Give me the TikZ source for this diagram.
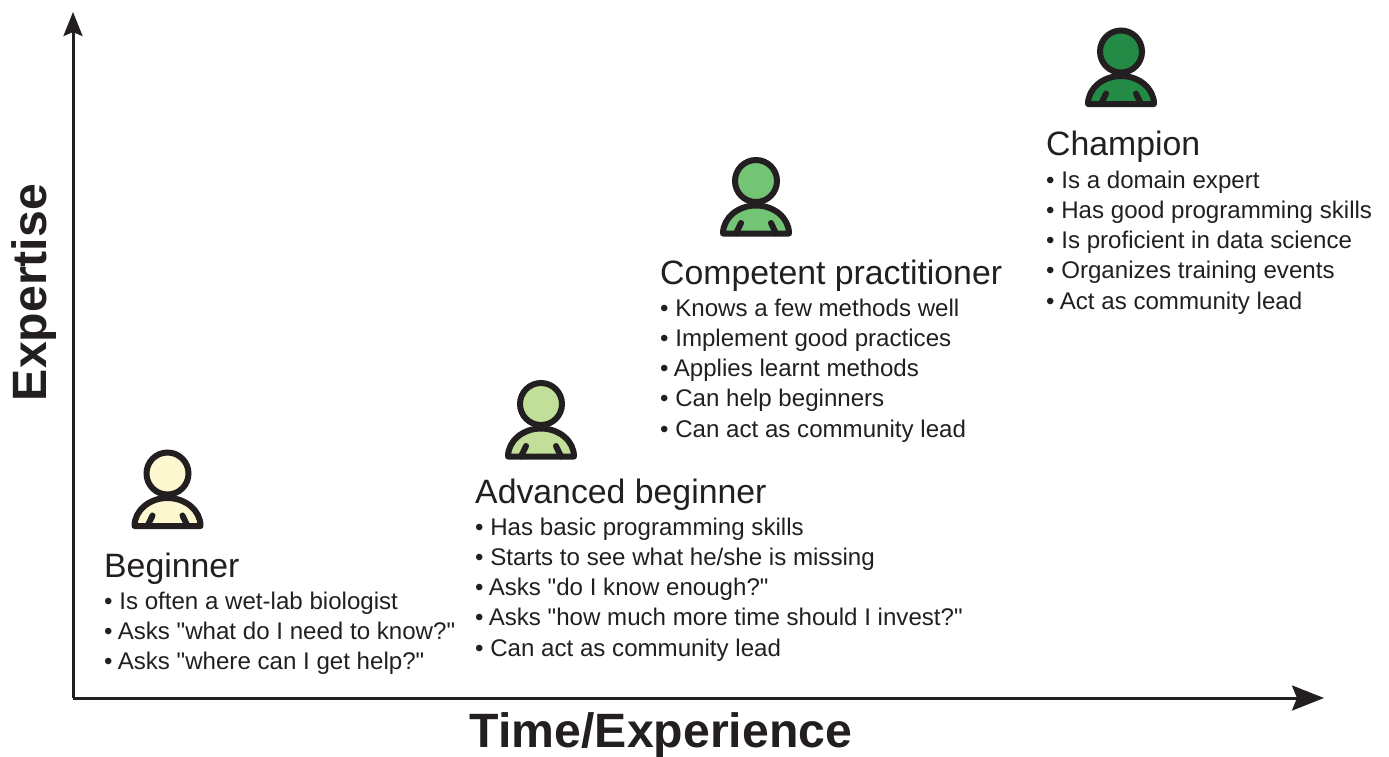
\documentclass[tikz,border=0pt]{standalone}
\usepackage{fontspec}
\setmainfont{Liberation Sans}[Ligatures=TeXOff]
\usetikzlibrary{arrows.meta}
\definecolor{ink}{HTML}{231F20}
\definecolor{lvlA}{HTML}{FDF8CF}
\definecolor{lvlB}{HTML}{C2DF9A}
\definecolor{lvlC}{HTML}{74C476}
\definecolor{lvlD}{HTML}{238B45}
\newcommand{\itm}{\textbullet\ }
\newcommand{\itmA}{\textbullet\ \kern-1.5pt}
\tikzset{
  x=1pt,y=-1pt,
  axisline/.style={draw=ink,line width=3pt},
  titletext/.style={anchor=base west,inner sep=0pt,text=ink,font=\fontsize{33.8}{36}\selectfont},
  listtext/.style={anchor=north west,inner sep=0pt,text=ink,align=left,font=\fontsize{24.1}{30.1}\selectfont},
  axislabel/.style={inner sep=0pt,text=ink,font=\fontsize{48.2}{50}\selectfont\bfseries},
  pics/person/.style={code={
    \draw[draw=ink,line width=6pt,fill=#1,line join=round] (-33,52.5) arc[start angle=180,end angle=360,x radius=33,y radius=28] -- cycle;
    \draw[draw=ink,line width=6pt,fill=#1] (0,0) circle[radius=21];
    \draw[draw=ink,line width=6pt,line cap=round] (-15,42) -- (-20,52.5);
    \draw[draw=ink,line width=6pt,line cap=round] (15,42) -- (20,52.5);
  }}
}
\begin{document}
\begin{tikzpicture}
\useasboundingbox (0,0) rectangle (1389,756);
\coordinate (origin) at (73,698);
\coordinate (xend) at (1324,698);
\coordinate (yend) at (73,12);
\draw[axisline,-{Stealth[length=32pt,width=25pt,inset=5pt]}] (origin) -- (xend);
\draw[axisline,-{Stealth[length=24pt,width=19pt,inset=4pt]}] (origin) -- (yend);
\node[axislabel] (xlabel) at (661,735) {Time/Experience};
\node[axislabel,rotate=90] (ylabel) at (34,292.5) {Expertise};

\pic (p1) at (167.5,473.5) {person=lvlA};
\pic (p2) at (541,404) {person=lvlB};
\pic (p3) at (756,181) {person=lvlC};
\pic (p4) at (1121,51.5) {person=lvlD};

\node[titletext] (t1) at (104,577) {Beginner};
\node[listtext] (l1) at (104,592) {\itm Is often a wet-lab biologist\\\itmA Asks "what do I need to know?"\\\itmA Asks "where can I get help?"};
\node[titletext] (t2) at (475,503) {Advanced beginner};
\node[listtext] (l2) at (475,518) {\itm Has basic programming skills\\\itm Starts to see what he/she is missing\\\itmA Asks "do I know enough?"\\\itmA Asks "how much more time should I invest?"\\\itm Can act as community lead};
\node[titletext] (t3) at (660,284) {Competent practitioner};
\node[listtext] (l3) at (660,299) {\itm Knows a few methods well\\\itm Implement good practices\\\itmA Applies learnt methods\\\itm Can help beginners\\\itm Can act as community lead};
\node[titletext] (t4) at (1046,155) {Champion};
\node[listtext] (l4) at (1046,171) {\itm Is a domain expert\\\itm Has good programming skills\\\itm Is proficient in data science\\\itm Organizes training events\\\itmA Act as community lead};
\end{tikzpicture}
\end{document}
